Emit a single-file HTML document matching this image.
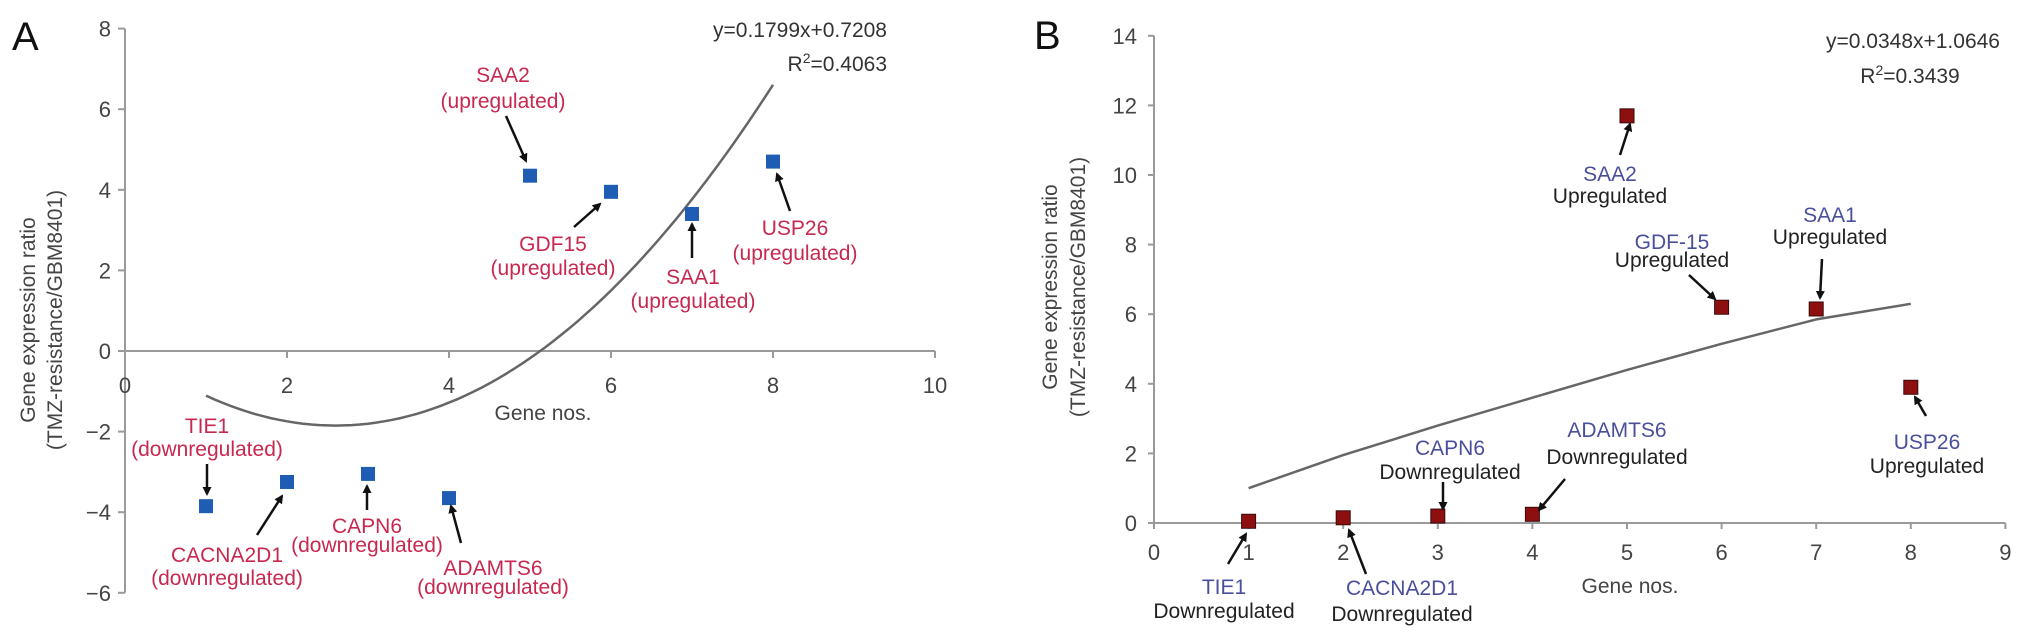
<!DOCTYPE html>
<html><head><meta charset="utf-8"><style>
html,body{margin:0;padding:0;background:#fff;}
svg{display:block;font-family:"Liberation Sans",sans-serif;}
</style></head><body>
<svg id="fig" width="2032" height="638" viewBox="0 0 2032 638">
<defs><marker id="ah" markerWidth="9" markerHeight="9" refX="7" refY="4.5" orient="auto" markerUnits="userSpaceOnUse"><path d="M0,0 L9,4.5 L0,9 z" fill="#111"/></marker></defs>
</svg>
<script>
// ---- Chart A data ----
const aGenes = [1,2,3,4,5,6,7,8];
const aValues = [-3.85,-3.25,-3.05,-3.65,4.35,3.95,3.4,4.7];
const aNames = ["TIE1","CACNA2D1","CAPN6","ADAMTS6","SAA2","GDF15","SAA1","USP26"];
const aXTicks = [0,2,4,6,8,10];
const aYTicks = [-6,-4,-2,0,2,4,6,8];
const aFitCoef = [0.29, 2.6, -1.85]; // a*(x-h)^2+k
// ---- Chart B data ----
const bGenes = [1,2,3,4,5,6,7,8];
const bValues = [0.05,0.15,0.2,0.25,11.7,6.2,6.15,3.9];
const bNames = ["TIE1","CACNA2D1","CAPN6","ADAMTS6","SAA2","GDF-15","SAA1","USP26"];
const bTrendX = [1,2,3,4,5,6,7,8];
const bTrendY = [1.0,1.95,2.8,3.6,4.4,5.15,5.85,6.3];
const bXTicks = [0,1,2,3,4,5,6,7,8,9];
const bYTicks = [0,2,4,6,8,10,12,14];

const svg = document.getElementById('fig');
const NS = 'http://www.w3.org/2000/svg';
function mk(tag, attrs, parent){const e=document.createElementNS(NS,tag);for(const k in attrs)e.setAttribute(k,attrs[k]);(parent||svg).appendChild(e);return e;}
function txt(x,y,s,size,fill,anchor,parent){const t=mk('text',{x:x,y:y,'font-size':size,fill:fill,'text-anchor':anchor||'middle'},parent);t.textContent=s;return t;}

const ax = v => 125 + 81*v, ay = v => 351 - 40.3*v;
const bx = v => 1154 + 94.6*v, by = v => 523 - 34.8*v;
const FS = 21;

// ===== Chart A =====
const gA = mk('g',{});


const pl = txt(12,50,'A',40,'#111','start',gA);


const axA = mk('line',{x1:ax(0),y1:ay(8),x2:ax(0),y2:ay(-6),stroke:'#9a9a9a','stroke-width':2},gA);


const xxA = mk('line',{x1:ax(0)-6,y1:ay(0),x2:ax(10),y2:ay(0),stroke:'#9a9a9a','stroke-width':2},gA);


aYTicks.forEach(v=>{
  mk('line',{x1:ax(0)-7,y1:ay(v),x2:ax(0),y2:ay(v),stroke:'#9a9a9a','stroke-width':2},gA);
  const t=txt(ax(0)-14,ay(v)+8,v<0?'\u2212'+(-v):String(v),22,'#444','end',gA);
  
  
});
aXTicks.forEach(v=>{
  mk('line',{x1:ax(v),y1:ay(0),x2:ax(v),y2:ay(0)+7,stroke:'#9a9a9a','stroke-width':2},gA);
  const t=txt(ax(v),ay(0)+42,String(v),22,'#444','middle',gA);
  
  
});
const xtA = txt(543,420,'Gene nos.',FS,'#444','middle',gA);


const ytA = mk('text',{transform:'translate(35,320) rotate(-90)','font-size':FS,fill:'#444','text-anchor':'middle'},gA);


ytA.innerHTML='<tspan x="0" y="0">Gene expression ratio</tspan><tspan x="0" y="27">(TMZ-resistance/GBM8401)</tspan>';
let d='';
for(let i=0;i<=70;i++){const x=1+7*i/70;const y=aFitCoef[0]*(x-aFitCoef[1])**2+aFitCoef[2];d+=(i?'L':'M')+ax(x).toFixed(1)+','+ay(y).toFixed(1);}
const fA = mk('path',{d:d,fill:'none',stroke:'#666','stroke-width':2.5},gA);


const eqA = txt(887,37,'y=0.1799x+0.7208',FS,'#333','end',gA);


const r2A = mk('text',{x:887,y:71,'font-size':FS,fill:'#333','text-anchor':'end'},gA);


r2A.innerHTML='R<tspan dy="-8" font-size="14">2</tspan><tspan dy="8">=0.4063</tspan>';
aGenes.forEach((g,i)=>{
  const r=mk('rect',{x:ax(g)-7,y:ay(aValues[i])-7,width:14,height:14,fill:'#1f5db4'},gA);
  
  
});
const annA = [
 ['TIE1','(downregulated)',207,433,456, 207,464,207,494],
 ['CACNA2D1','(downregulated)',227,562,585, 257,535,282,496],
 ['CAPN6','(downregulated)',367,533,552, 367,510,367,486],
 ['ADAMTS6','(downregulated)',493,575,594, 461,543,451,506],
 ['SAA2','(upregulated)',503,82,108, 506,116,526,161],
 ['GDF15','(upregulated)',553,251,275, 574,227,600,204],
 ['SAA1','(upregulated)',693,284,308, 692,258,692,224],
 ['USP26','(upregulated)',795,235,260, 790,211,777,174]
];
annA.forEach(a=>{
  const t1=txt(a[2],a[3],a[0],FS,'#c8284f','middle',gA);
  
  
  const t2=txt(a[2],a[4],a[1],FS,'#c8284f','middle',gA);
  
  
  const l=mk('line',{x1:a[5],y1:a[6],x2:a[7],y2:a[8],stroke:'#111','stroke-width':2.5,'marker-end':'url(#ah)'},gA);
  
  
});

// ===== Chart B =====
const gB = mk('g',{});


const plB = txt(1034,49,'B',40,'#111','start',gB);


const axB = mk('line',{x1:bx(0),y1:by(14),x2:bx(0),y2:by(0)+6,stroke:'#9a9a9a','stroke-width':2},gB);


const xxB = mk('line',{x1:bx(0),y1:by(0),x2:bx(9),y2:by(0),stroke:'#9a9a9a','stroke-width':2},gB);


bYTicks.forEach(v=>{
  mk('line',{x1:bx(0)-6,y1:by(v),x2:bx(0),y2:by(v),stroke:'#9a9a9a','stroke-width':2},gB);
  const t=txt(bx(0)-17,by(v)+8,String(v),22,'#444','end',gB);
  
  
});
bXTicks.forEach(v=>{
  mk('line',{x1:bx(v),y1:by(0),x2:bx(v),y2:by(0)+6,stroke:'#9a9a9a','stroke-width':2},gB);
  const t=txt(bx(v),by(0)+37,String(v),22,'#444','middle',gB);
  
  
});
const xtB = txt(1630,593,'Gene nos.',FS,'#444','middle',gB);


const ytB = mk('text',{transform:'translate(1057,287) rotate(-90)','font-size':FS,fill:'#444','text-anchor':'middle'},gB);


ytB.innerHTML='<tspan x="0" y="0">Gene expression ratio</tspan><tspan x="0" y="28">(TMZ-resistance/GBM8401)</tspan>';
let dB='';
bTrendX.forEach((x,i)=>{dB+=(i?'L':'M')+bx(x).toFixed(1)+','+by(bTrendY[i]).toFixed(1);});
const fB = mk('path',{d:dB,fill:'none',stroke:'#666','stroke-width':2.5,'stroke-linejoin':'round'},gB);


const eqB = txt(2000,48,'y=0.0348x+1.0646',FS,'#333','end',gB);


const r2B = mk('text',{x:1910,y:83,'font-size':FS,fill:'#333','text-anchor':'middle'},gB);


r2B.innerHTML='R<tspan dy="-8" font-size="14">2</tspan><tspan dy="8">=0.3439</tspan>';
bGenes.forEach((g,i)=>{
  const r=mk('rect',{x:bx(g)-7,y:by(bValues[i])-7,width:14,height:14,fill:'#8e0f10',stroke:'#3a0a0a','stroke-width':1},gB);
  
  
});
const annB = [
 ['TIE1','Downregulated',1224,594,618, 1228,564,1246,534],
 ['CACNA2D1','Downregulated',1402,595,621, 1366,574,1349,530],
 ['CAPN6','Downregulated',1450,455,479, 1443,482,1443,509],
 ['ADAMTS6','Downregulated',1617,437,464, 1565,479,1539,510],
 ['SAA2','Upregulated',1610,181,203, 1620,155,1630,124],
 ['GDF-15','Upregulated',1672,249,267, 1689,275,1715,299],
 ['SAA1','Upregulated',1830,222,244, 1822,259,1820,298],
 ['USP26','Upregulated',1927,449,473, 1926,416,1915,397]
];
annB.forEach(a=>{
  const t1=txt(a[2],a[3],a[0],FS,'#4a4f9c','middle',gB);
  
  
  const t2=txt(a[2],a[4],a[1],FS,'#222','middle',gB);
  
  
  const l=mk('line',{x1:a[5],y1:a[6],x2:a[7],y2:a[8],stroke:'#111','stroke-width':2.5,'marker-end':'url(#ah)'},gB);
  
  
});
</script>
</body></html>
